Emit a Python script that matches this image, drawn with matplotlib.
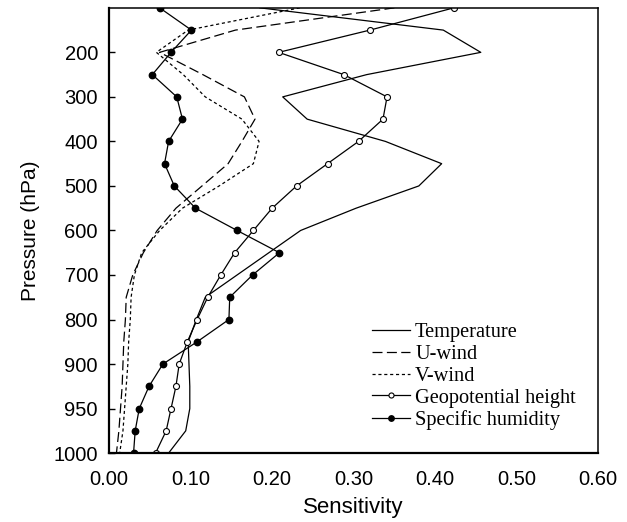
import matplotlib
matplotlib.use("Agg")
import matplotlib.pyplot as plt
import numpy as np

# pressure levels (hPa), top to bottom
levels = [100, 150, 200, 250, 300, 350, 400, 450, 500, 550, 600,
          650, 700, 750, 800, 850, 900, 925, 950, 975, 1000]

temperature = [0.185, 0.410, 0.456, 0.316, 0.213, 0.243, 0.339, 0.408, 0.380, 0.303, 0.235,
               0.196, 0.157, 0.118, 0.107, 0.097, 0.098, 0.099, 0.099, 0.094, 0.073]
u_wind = [0.350, 0.155, 0.062, 0.115, 0.166, 0.179, 0.163, 0.146, 0.114, 0.082, 0.059,
          0.042, 0.029, 0.021, 0.020, 0.018, 0.017, 0.016, 0.014, 0.012, 0.009]
v_wind = [0.234, 0.097, 0.058, 0.091, 0.118, 0.163, 0.184, 0.177, 0.135, 0.090, 0.062,
          0.040, 0.031, 0.027, 0.026, 0.024, 0.023, 0.021, 0.019, 0.017, 0.013]
geopotential = [0.423, 0.320, 0.208, 0.288, 0.341, 0.336, 0.306, 0.268, 0.230, 0.200, 0.177,
                0.154, 0.137, 0.121, 0.108, 0.096, 0.086, 0.082, 0.076, 0.070, 0.057]
humidity = [0.062, 0.101, 0.076, 0.053, 0.083, 0.090, 0.073, 0.068, 0.080, 0.106, 0.157,
            0.209, 0.176, 0.148, 0.147, 0.108, 0.066, 0.049, 0.037, 0.032, 0.030]

ytick_vals = [200, 300, 400, 500, 600, 700, 800, 900, 950, 1000]
xtick_vals = [0.0, 0.1, 0.2, 0.3, 0.4, 0.5, 0.6]

# levels are equally spaced on the plot
idx = np.arange(len(levels), dtype=float)
lev = np.array(levels, dtype=float)


def fwd(p):
    return np.interp(p, lev, idx)


def inv(i):
    return np.interp(i, idx, lev)


plt.rcParams['font.family'] = ['Liberation Sans', 'DejaVu Sans']

fig = plt.figure(figsize=(6.27, 5.22), dpi=100)
ax = fig.add_axes([0.174, 0.132, 0.780, 0.853])
ax.set_yscale('function', functions=(fwd, inv))

lw = 0.9
ax.plot(temperature, levels, '-', color='black', lw=lw, label='Temperature')
ax.plot(u_wind, levels, color='black', lw=lw, dashes=(8, 3.5), label='U-wind')
ax.plot(v_wind, levels, color='black', lw=lw, dashes=(2.5, 2.2), label='V-wind')
ax.plot(geopotential, levels, '-o', color='black', lw=lw, ms=4.3,
        mfc='white', mec='black', mew=0.8, label='Geopotential height')
ax.plot(humidity, levels, '-o', color='black', lw=lw, ms=4.6,
        mfc='black', mec='black', label='Specific humidity')

ax.set_xlim(0, 0.6)
ax.set_ylim(1000, 100)
ax.set_xticks(xtick_vals)
ax.set_xticklabels(['%.2f' % v for v in xtick_vals])
ax.set_yticks(ytick_vals)
ax.set_yticklabels([str(v) for v in ytick_vals])
ax.yaxis.set_minor_locator(matplotlib.ticker.NullLocator())
ax.tick_params(axis='y', direction='in', length=4, width=1, labelsize=14.5, pad=8)
ax.tick_params(axis='x', length=0, labelsize=14.5, pad=12)

ax.spines['left'].set_linewidth(1.6)
ax.spines['bottom'].set_linewidth(1.6)
ax.spines['top'].set_linewidth(1.1)
ax.spines['right'].set_linewidth(1.1)

ax.set_xlabel('Sensitivity', fontsize=16, labelpad=6)
ax.set_ylabel('Pressure (hPa)', fontsize=15, labelpad=10)

ax.legend(loc='upper left', bbox_to_anchor=(0.538, 0.292), frameon=False,
          prop={'family': 'Liberation Serif', 'size': 14.7},
          handlelength=1.85, handletextpad=0.25, labelspacing=0.12,
          borderpad=0, borderaxespad=0, markerscale=0.85)

fig.savefig('out.png', dpi=100)
